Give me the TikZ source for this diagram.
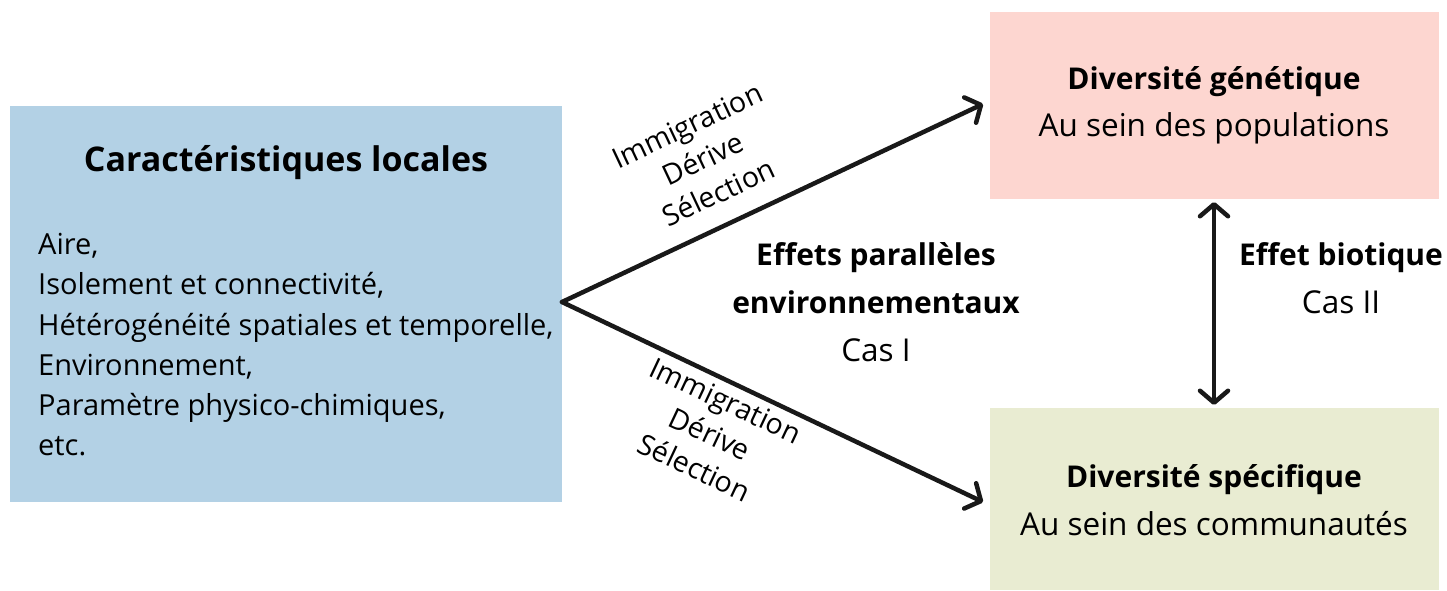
\documentclass[tikz,border=0pt]{standalone}
\usepackage{fontspec}
\setmainfont{Open Sans}
\usetikzlibrary{arrows.meta}
\definecolor{boxblue}{RGB}{179,209,229}
\definecolor{boxpink}{RGB}{253,214,208}
\definecolor{boxgreen}{RGB}{233,236,210}
\tikzset{
  panel/.style={inner sep=0pt, outer sep=0pt, draw=none},
  conn/.style={line width=4.5pt, draw=black!90, line cap=round, line join=miter},
  barb/.tip={Straight Barb[length=12pt,width=28pt,line width=4.5pt,round]},
  big/.style={font=\fontsize{34}{40}\selectfont\bfseries},
  mid/.style={font=\fontsize{31.5}{44}\selectfont},
  midb/.style={font=\fontsize{30}{44}\selectfont\bfseries},
  body/.style={font=\fontsize{29}{40.3}\selectfont},
  lab/.style={font=\fontsize{28.5}{37}\selectfont, align=center, inner sep=0pt},
}
\begin{document}
\begin{tikzpicture}[x=1pt,y=-1pt]
\useasboundingbox (0,0) rectangle (1447,590);
% boxes
\node[panel, fill=boxblue, minimum width=552pt, minimum height=396pt] (loc) at (286,304) {};
\node[panel, fill=boxpink, minimum width=449pt, minimum height=187pt] (gen) at (1214.5,105.5) {};
\node[panel, fill=boxgreen, minimum width=449pt, minimum height=182pt] (spe) at (1214.5,499) {};
% texts in left box
\node[big, inner sep=0pt] (loct) at (286,163) {Caractéristiques locales};
\node[body, align=left, anchor=north west, inner sep=0pt] (locb) at (38,233)
  {Aire,\\Isolement et connectivité,\\Hétérogénéité spatiales et temporelle,\\Environnement,\\Paramètre physico-chimiques,\\etc.};
% right boxes text
\node[midb, inner sep=0pt] (gent) at (1214,82) {Diversité génétique};
\node[mid, inner sep=0pt] (gens) at (1214,128) {Au sein des populations};
\node[midb, inner sep=0pt] (spet) at (1214,480) {Diversité spécifique};
\node[mid, inner sep=0pt] (spes) at (1214,524) {Au sein des communautés};
% middle text
\node[midb, inner sep=0pt] (eff1) at (876,258) {Effets parallèles};
\node[midb, inner sep=0pt] (eff2) at (876,302) {environnementaux};
\node[mid, inner sep=0pt] (cas1) at (876,350) {Cas I};
\node[midb, inner sep=0pt] (bio) at (1341,258) {Effet biotique};
\node[mid, inner sep=0pt] (cas2) at (1341,302) {Cas II};
% arrows
\coordinate (apex) at (562,302);
\coordinate (gtip) at (983,104);
\coordinate (stip) at (983,502);
\draw[conn, -barb] (apex) -- (gtip);
\draw[conn, -barb] (apex) -- (stip);
\coordinate (vtop) at (1214,202);
\coordinate (vbot) at (1214,405);
\draw[conn, barb-barb] (vtop) -- (vbot);
% labels on arrows
\node[lab, rotate=25.2] (lab1) at (703,159) {Immigration\\Dérive\\Sélection};
\node[lab, rotate=-25.2] (lab2) at (710,434) {Immigration\\Dérive\\Sélection};
\end{tikzpicture}
\end{document}
